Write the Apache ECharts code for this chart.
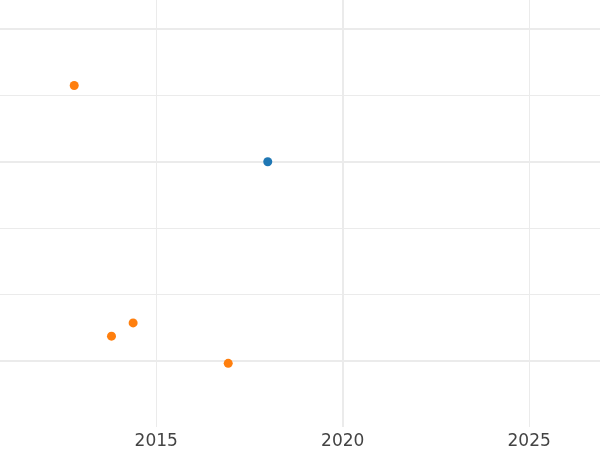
<!DOCTYPE html>
<html><head><meta charset="utf-8">
<script src="https://cdn.jsdelivr.net/npm/echarts@6/dist/echarts.min.js"></script>
<style>html,body{margin:0;padding:0;background:#fff}#c{width:600px;height:450px}</style>
</head><body><div id="c"></div>
<script>
// Data
const blueX = [2017.99];
const blueY = [4.0];
const orangeX = [2012.80, 2013.80, 2014.38, 2016.93];
const orangeY = [5.15, 1.37, 1.57, 0.96];
const xTickLabels = [2015, 2020, 2025];
const xThinGrid = [2015, 2025];
const xThickGrid = [2020];
const yThinGrid = [2, 3, 5];
const yThickGrid = [1, 4, 6];

const gridColor = '#ebebeb';
const mk = (arr, key, w) => arr.map(v => ({ [key]: v, lineStyle: { color: gridColor, width: w, type: 'solid' } }));

const chart = echarts.init(document.getElementById('c'), null, { renderer: 'canvas' });
chart.setOption({
  animation: false,
  backgroundColor: '#fff',
  grid: { left: 0, right: 0, top: 0, bottom: 23, containLabel: false },
  xAxis: {
    type: 'value', min: 2010.81, max: 2026.9,
    axisLine: { show: false }, axisTick: { show: false }, splitLine: { show: false },
    axisLabel: { customValues: xTickLabels, formatter: v => String(v), color: '#444', fontSize: 17, fontFamily: 'DejaVu Sans', margin: 6 }
  },
  yAxis: {
    type: 'value', min: 0, max: 6.44,
    axisLine: { show: false }, axisTick: { show: false }, splitLine: { show: false }, axisLabel: { show: false }
  },
  series: [
    {
      type: 'line', data: [], silent: true, zlevel: 0,
      markLine: {
        silent: true, symbol: 'none', label: { show: false }, animation: false,
        data: [].concat(mk(xThinGrid, 'xAxis', 1), mk(yThinGrid, 'yAxis', 1), mk(xThickGrid, 'xAxis', 2), mk(yThickGrid, 'yAxis', 2))
      }
    },
    { type: 'scatter', zlevel: 1, symbolSize: 9, itemStyle: { color: '#ff7f0e', opacity: 1 }, data: orangeX.map((x, i) => [x, orangeY[i]]) },
    { type: 'scatter', zlevel: 1, symbolSize: 9, itemStyle: { color: '#1f77b4', opacity: 1 }, data: blueX.map((x, i) => [x, blueY[i]]) }
  ]
});
</script></body></html>
